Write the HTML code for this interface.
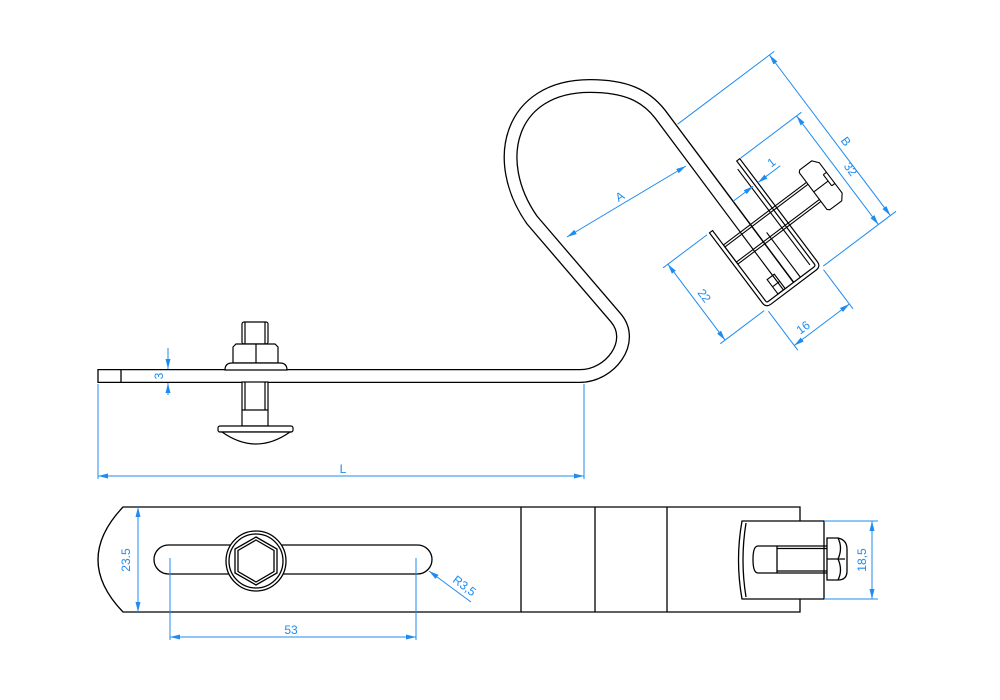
<!DOCTYPE html>
<html><head><meta charset="utf-8"><style>
html,body{margin:0;padding:0;background:#fff;}
svg{display:block;}
text{font-family:"Liberation Sans",sans-serif;font-size:12px;fill:#1e8cf0;}
</style></head><body>
<svg width="1000" height="700" viewBox="0 0 1000 700" xmlns="http://www.w3.org/2000/svg">
<defs>
<marker id="ar" viewBox="0 0 10 6" refX="10" refY="3" markerWidth="10" markerHeight="6" markerUnits="userSpaceOnUse" orient="auto-start-reverse">
<path d="M0,0.5 L10,3 L0,5.5 z" fill="#1e8cf0"/></marker>
</defs>
<g fill="none" stroke-linejoin="round">
<path d="M98,376 L580,376 C610,376 636,342 616,318 L532,220 C490,160 510,86 590,86 C625,86 645,95 660,114 L790,288" stroke="#000" stroke-width="14"/>
<path d="M97,376 L580,376 C610,376 636,342 616,318 L532,220 C490,160 510,86 590,86 C625,86 645,95 660,114 L792,291" stroke="#fff" stroke-width="11.4"/>
<line x1="98" y1="369" x2="98" y2="383" stroke="#000" stroke-width="1.3"/>
<line x1="121" y1="369" x2="121" y2="383" stroke="#000" stroke-width="1.3"/>
</g>
<g fill="#fff" stroke="#000" stroke-width="1.2">
<rect x="242" y="322" width="26" height="22" rx="2"/>
<line x1="245" y1="322" x2="245" y2="344"/><line x1="265" y1="322" x2="265" y2="344"/>
<path d="M233,347 L236,344 L275,344 L278,347 L278,363 L233,363 Z"/>
<line x1="256" y1="344" x2="256" y2="363"/>
<path d="M225,370 Q225,363 232,363 L280,363 Q287,363 287,370 Z"/>
<rect x="242" y="382" width="26" height="44"/>
<line x1="245" y1="382" x2="245" y2="410"/><line x1="265" y1="382" x2="265" y2="410"/>
<line x1="242" y1="410" x2="268" y2="410"/>
<rect x="218" y="426" width="75" height="6" rx="2"/>
<path d="M222,432 Q256,456 290,432 Z"/>
</g>
<g stroke="#1e8cf0" stroke-width="1" fill="none">
<line x1="168" y1="348" x2="168" y2="369" marker-end="url(#ar)"/>
<line x1="168" y1="395" x2="168" y2="383" marker-end="url(#ar)"/>
<line x1="98" y1="384" x2="98" y2="479"/>
<line x1="584" y1="384" x2="584" y2="479"/>
<line x1="98" y1="476" x2="584" y2="476" marker-start="url(#ar)" marker-end="url(#ar)"/>
<line x1="567" y1="237" x2="686" y2="166" marker-start="url(#ar)" marker-end="url(#ar)"/>
</g>
<text x="163" y="376" text-anchor="middle" transform="rotate(-90 163 376)">3</text>
<text x="343" y="473" text-anchor="middle">L</text>
<text x="622" y="200" text-anchor="middle" transform="rotate(-31 622 200)">A</text>

<g transform="translate(766,308) rotate(-37)">
<g fill="none" stroke-linejoin="round">
<path d="M2,-94 L2,-6 Q2,-2 6,-2 L63,-2 Q67,-2 67,-6 L67,-135" stroke="#000" stroke-width="5"/>
<path d="M2,-95 L2,-6 Q2,-2 6,-2 L63,-2 Q67,-2 67,-6 L67,-136" stroke="#fff" stroke-width="2.6"/>
</g>
<g stroke="#000" stroke-width="1.1" fill="none">
<line x1="-0.5" y1="-94" x2="4.5" y2="-94"/>
<line x1="64.5" y1="-135" x2="69.5" y2="-135"/>
<line x1="61" y1="-128" x2="61" y2="-8"/>
<line x1="4" y1="-76" x2="108" y2="-76"/><line x1="4" y1="-73.5" x2="108" y2="-73.5"/>
<line x1="4" y1="-54.5" x2="108" y2="-54.5"/><line x1="4" y1="-52" x2="108" y2="-52"/>
<line x1="4" y1="-76" x2="4" y2="-52"/>
<path d="M108,-88 L110,-90 L125,-90 L130,-84 L130,-46 L125,-40 L110,-40 L108,-42 Z" fill="#fff"/>
<line x1="126" y1="-72" x2="130" y2="-72"/><line x1="108" y1="-64" x2="126" y2="-64"/><line x1="126" y1="-58" x2="130" y2="-58"/>
<line x1="126" y1="-72" x2="126" y2="-58"/>
<rect x="18" y="-22" width="9" height="18"/>
<line x1="18" y1="-13" x2="27" y2="-13"/>
<line x1="46" y1="-4" x2="46" y2="-60"/>
</g>
<g stroke="#1e8cf0" stroke-width="1" fill="none">
<line x1="-3" y1="-94" x2="-58" y2="-94"/>
<line x1="-3" y1="1" x2="-58" y2="1"/>
<line x1="-52" y1="-94" x2="-52" y2="1" marker-start="url(#ar)" marker-end="url(#ar)"/>
<line x1="0" y1="4" x2="0" y2="53"/>
<line x1="69" y1="4" x2="69" y2="53"/>
<line x1="0" y1="47" x2="69" y2="47" marker-start="url(#ar)" marker-end="url(#ar)"/>
<line x1="71" y1="1" x2="162" y2="1"/>
<line x1="70" y1="-135" x2="146" y2="-135"/>
<line x1="140" y1="-135" x2="140" y2="1" marker-start="url(#ar)" marker-end="url(#ar)"/>
<line x1="40" y1="-200" x2="161" y2="-200"/>
<line x1="155" y1="-200" x2="155" y2="1" marker-start="url(#ar)" marker-end="url(#ar)"/>
<line x1="38" y1="-105" x2="63" y2="-105" marker-end="url(#ar)"/>
<line x1="97" y1="-105" x2="69" y2="-105" marker-end="url(#ar)"/>
</g>
<text x="-46" y="-47" text-anchor="middle" transform="rotate(90 -46 -47)">22</text>
<text x="18" y="42" text-anchor="middle">16</text>
<text x="147" y="-60" text-anchor="middle" transform="rotate(90 147 -60)">32</text>
<text x="160" y="-85" text-anchor="middle" transform="rotate(90 160 -85)">B</text>
<text x="92" y="-109" text-anchor="middle">1</text>
</g>

<g fill="none" stroke="#000" stroke-width="1.3">
<path d="M800,521 L800,507 L123,507 Q73,560 123,612 L800,612 L800,599"/>
<line x1="521" y1="507" x2="521" y2="612"/>
<line x1="595" y1="507" x2="595" y2="612"/>
<line x1="667" y1="507" x2="667" y2="612"/>
<path d="M168.5,545 L417.5,545 A14.5,14.5 0 0 1 417.5,574 L168.5,574 A14.5,14.5 0 0 1 168.5,545 Z"/>
<circle cx="256" cy="561" r="30" fill="#fff"/>
<circle cx="256" cy="561" r="27"/>
<polygon points="256,537 277,549 277,573 256,585 235,573 235,549"/>
<polygon points="256,540 274,550.5 274,571.5 256,582 238,571.5 238,550.5"/>
<path d="M742,521 L824,521 L824,599 L742,599 Q735,560 742,521 Z" fill="#fff"/>
<path d="M746,523 Q740,560 746,597"/>
<path d="M777,546 L758,546 Q753,546 753,559.5 Q753,573 758,573 L777,573 Z"/>
<line x1="777" y1="546" x2="827" y2="546"/><line x1="777" y1="548.5" x2="827" y2="548.5"/>
<line x1="777" y1="571" x2="827" y2="571"/><line x1="777" y1="573" x2="827" y2="573"/>
<path d="M827,538 L838,538 Q847,540 847,549 L847,571 Q847,580 838,580 L827,580 Z" fill="#fff"/>
<line x1="827" y1="559" x2="845" y2="559"/>
<path d="M838,538 Q843,548 838,559 Q843,570 838,580"/>
</g>
<g stroke="#1e8cf0" stroke-width="1" fill="none">
<line x1="138" y1="507" x2="138" y2="612" marker-start="url(#ar)" marker-end="url(#ar)"/>
<line x1="170" y1="558" x2="170" y2="640"/>
<line x1="416" y1="558" x2="416" y2="640"/>
<line x1="170" y1="637" x2="416" y2="637" marker-start="url(#ar)" marker-end="url(#ar)"/>
<line x1="471" y1="602" x2="429" y2="571" marker-end="url(#ar)"/>
<line x1="824" y1="521" x2="878" y2="521"/>
<line x1="824" y1="599" x2="878" y2="599"/>
<line x1="872" y1="521" x2="872" y2="599" marker-start="url(#ar)" marker-end="url(#ar)"/>
</g>
<text x="130" y="560" text-anchor="middle" transform="rotate(-90 130 560)">23.5</text>
<text x="291" y="634" text-anchor="middle">53</text>
<text x="462" y="589" text-anchor="middle" transform="rotate(37 462 589)">R3,5</text>
<text x="866" y="560" text-anchor="middle" transform="rotate(-90 866 560)">18,5</text>
</svg>
</body></html>
